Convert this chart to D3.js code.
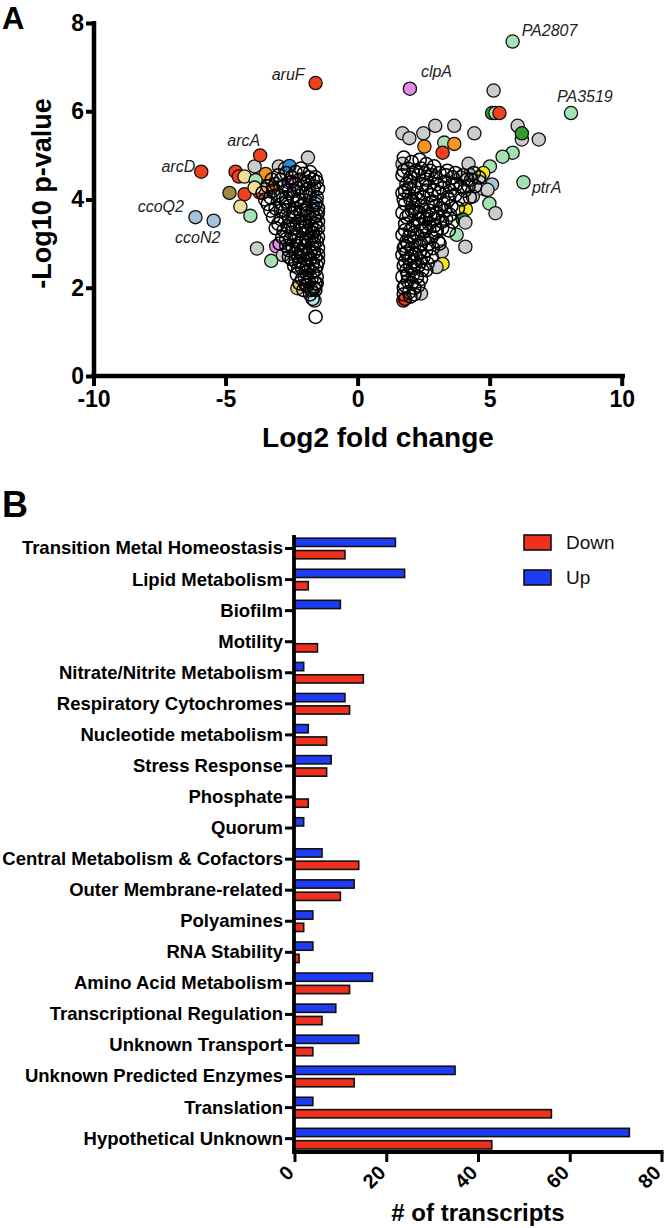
<!DOCTYPE html>
<html><head><meta charset="utf-8">
<script src="https://cdn.jsdelivr.net/npm/d3@7/dist/d3.min.js"></script>
<style>
body{margin:0;background:#fff;}
svg{display:block;font-family:"Liberation Sans",Arial,sans-serif;}
</style></head>
<body>
<svg id="c" width="666" height="1228"></svg>
<script>
// ---------- Panel A data ----------
const xTicksA = [-10, -5, 0, 5, 10];
const yTicksA = [0, 2, 4, 6, 8];

// labelled genes: [name, log2FC, -log10 p, group]
const labelledGenes = [
  ["aruF", -1.59, 6.64, "red"],
  ["arcA", -3.69, 5.0, "red"],
  ["arcD", -5.92, 4.63, "red"],
  ["ccoQ2", -6.14, 3.6, "steel"],
  ["ccoN2", -5.45, 3.52, "steel"],
  ["clpA", 1.98, 6.51, "violet"],
  ["PA2807", 5.87, 7.58, "lgreen"],
  ["PA3519", 8.08, 5.96, "lgreen"],
  ["ptrA", 6.28, 4.39, "lgreen"]
];

// coloured (categorised) genes: [log2FC, -log10 p, group]
const colouredGenes = [
  [-4.62,4.63,"red"],[-4.5,4.52,"red"],[-3.9,4.75,"grey"],[-3.48,4.58,"orange"],
  [-4.28,4.52,"ltan"],[-3.86,4.44,"lgreen"],[-2.98,4.75,"grey"],[-2.75,4.7,"grey"],
  [-2.58,4.76,"blue"],[-1.88,4.95,"grey"],[-2.58,4.38,"violet"],[-4.85,4.15,"olive"],
  [-4.28,4.12,"red"],[-3.71,4.16,"red"],[-3.5,4.23,"tan"],[-3.2,4.27,"orange"],
  [-3.9,4.27,"ltan"],[-2.9,4.07,"lcyan"],[-4.44,3.84,"ltan"],[-4.06,3.63,"lgreen"],
  [-3.81,2.89,"grey"],[-3.27,2.61,"lgreen"],[-3.08,2.94,"violet"],[-2.83,2.74,"grey"],
  [-2.28,1.99,"tan"],[-1.72,1.89,"lcyan"],[-1.63,1.71,"lcyan"],[-1.56,3.95,"steel"],
  [-1.5,3.7,"lcyan"],
  [5.15,6.47,"grey"],[5.09,5.96,"dgreen"],[5.22,5.96,"lgreen"],[5.37,5.96,"red"],
  [6.06,5.67,"grey"],[6.22,5.36,"grey"],[6.22,5.5,"dgreen"],[6.86,5.36,"grey"],
  [5.87,5.06,"lgreen"],[5.49,4.97,"lgreen"],[5.01,4.75,"lgreen"],[1.7,5.5,"grey"],
  [1.96,5.39,"grey"],[2.49,5.5,"grey"],[2.94,5.67,"grey"],[3.66,5.67,"grey"],
  [4.42,5.5,"grey"],[2.53,5.2,"orange"],[3.28,5.29,"lgreen"],[3.66,5.26,"orange"],
  [3.22,5.06,"red"],[1.7,4.81,"grey"],[4.2,4.81,"grey"],[4.76,4.6,"yellow"],
  [5.09,4.34,"steel"],[4.61,4.4,"grey"],[4.25,4.55,"steel"],[4.86,4.22,"grey"],
  [4.61,4.25,"grey"],[4.92,4.22,"grey"],[4.99,3.91,"lgreen"],[5.22,3.69,"grey"],
  [4.1,3.78,"yellow"],[3.98,3.55,"dgreen"],[4.08,3.48,"grey"],[3.75,3.2,"lgreen"],
  [4.08,2.93,"grey"],[3.19,2.82,"grey"],[3.22,2.54,"yellow"],[2.99,2.47,"grey"],
  [2.4,1.87,"grey"],[1.73,1.71,"red"],[4.36,4.07,"grey"],[3.9,4.5,"grey"]
];

// uncategorised genes (open circles): [log2FC, -log10 p]
const openGenes = [
  [-3.0,4.55],[-2.7,4.6],[-2.35,4.62],[-2.05,4.58],[-1.8,4.62],[-1.6,4.5],[-2.2,4.45],[-1.9,4.4],
  [-1.65,4.3],[-2.5,4.4],[-2.8,4.3],[-3.1,4.35],[-3.4,4.3],[-3.6,4.15],[-3.3,4.05],[-3.0,4.1],
  [-2.7,4.05],[-2.4,4.2],[-2.1,4.15],[-1.8,4.1],[-1.55,4.05],
  [-3.4,3.9],[-3.1,3.8],[-2.85,3.9],[-2.6,3.85],[-2.3,3.95],[-2.0,3.9],[-1.7,3.85],[-1.5,3.8],
  [-3.2,3.6],[-2.9,3.55],[-2.6,3.6],[-2.4,3.7],[-2.15,3.65],[-1.9,3.7],[-1.65,3.6],[-1.5,3.5],
  [-2.0,3.5],[-2.3,3.45],[-1.75,3.4],
  [-3.1,3.35],[-2.8,3.3],[-2.5,3.25],[-2.2,3.3],[-1.95,3.25],[-1.6,3.3],[-1.5,3.15],[-2.7,3.1],
  [-2.4,3.05],[-2.1,3.1],[-1.85,3.05],[-1.65,3.0],[-2.95,3.0],[-2.3,2.95],[-1.5,2.9],
  [-2.6,2.85],[-2.35,2.8],[-2.05,2.85],[-1.8,2.8],[-1.6,2.7],[-2.5,2.65],[-2.2,2.6],[-1.95,2.65],
  [-1.7,2.55],[-1.5,2.6],[-2.4,2.5],[-2.1,2.45],[-1.85,2.4],[-1.6,2.4],
  [-2.3,2.3],[-2.0,2.25],[-1.75,2.2],[-1.55,2.25],[-2.2,2.1],[-1.9,2.05],[-1.65,2.0],[-2.05,1.95],
  [-1.8,1.85],[-1.6,1.95],[-1.59,1.34],
  [-2.2,4.0],[-1.95,3.8],[-2.45,3.35],[-1.75,3.15],[-2.0,2.95],[-2.25,2.7],[-1.9,2.5],[-2.15,3.85],
  [-1.85,4.25],[-2.6,4.2],[-2.9,4.45],[-3.2,4.2],[-1.7,4.45],[-2.35,4.35],[-2.0,4.35],[-2.75,3.75],
  [-2.55,3.45],[-2.3,3.15],[-1.95,3.4],[-1.55,3.65],[-1.7,3.75],
  [-2.25,4.25],[-1.95,4.15],[-1.7,4.2],[-1.5,4.25],[-2.45,4.05],[-2.05,3.75],[-1.8,3.6],[-1.6,3.9],
  [-2.35,3.8],[-2.2,3.5],[-1.85,3.3],[-1.6,3.45],[-2.4,3.6],[-2.1,3.35],[-1.7,3.25],[-2.55,3.1],
  [-2.2,3.0],[-1.95,3.1],[-1.7,2.9],[-1.55,3.05],[-2.45,2.9],[-2.15,2.8],[-1.9,2.75],[-1.65,2.8],
  [-2.35,2.6],[-2.05,2.55],[-1.8,2.65],[-1.55,2.5],[-2.25,2.45],[-1.95,2.35],[-1.7,2.35],[-2.1,2.2],
  [-1.85,2.15],[-1.6,2.1],[-1.95,2.05],[-1.75,1.95],[-1.7,1.75],[-2.7,3.95],[-2.9,3.75],[-3.0,3.45],
  [-2.65,3.4],[-2.85,3.15],[-2.7,2.95],[-2.6,2.7],[-3.3,3.75],[-3.5,4.0],[-3.25,4.45],[-2.5,4.5],
  [-2.15,4.7],[-1.85,4.5],[-1.55,4.4],[-1.65,3.15],[-1.5,3.35],[-1.5,2.75],[-1.55,2.1],
  [1.75,4.95],[2.05,4.85],[2.35,4.9],[2.6,4.8],[2.9,4.75],[1.9,4.7],[2.2,4.65],
  [1.7,4.55],[2.0,4.5],[2.3,4.55],[2.55,4.6],[2.8,4.55],[3.1,4.6],[3.4,4.65],[3.7,4.6],[4.0,4.55],
  [4.3,4.45],[4.6,4.5],[1.85,4.35],[2.15,4.3],[2.45,4.35],[2.7,4.3],[3.0,4.35],[3.3,4.4],[3.6,4.35],
  [3.9,4.3],[4.2,4.3],
  [1.7,4.15],[1.95,4.1],[2.25,4.15],[2.5,4.05],[2.8,4.1],[3.1,4.15],[3.4,4.05],[3.7,4.1],[3.95,4.0],
  [4.25,4.05],[1.8,3.9],[2.1,3.95],[2.4,3.85],[2.65,3.9],[2.95,3.85],[3.25,3.9],[3.55,3.85],[3.8,3.8],
  [1.7,3.7],[1.95,3.65],[2.2,3.7],[2.5,3.6],[2.75,3.65],[3.05,3.6],[3.35,3.55],[3.6,3.5],[1.8,3.45],
  [2.1,3.4],[2.35,3.45],[2.6,3.35],[2.9,3.4],[3.2,3.35],[3.45,3.3],
  [1.7,3.2],[1.95,3.15],[2.25,3.2],[2.5,3.1],[2.8,3.15],[3.05,3.05],[1.8,2.95],[2.05,2.9],[2.35,2.95],
  [2.6,2.85],[2.85,2.9],[1.7,2.75],[2.2,2.75],
  [1.95,2.65],[2.4,2.6],[2.65,2.55],[1.75,2.5],[2.1,2.45],[2.45,2.4],[1.9,2.3],[2.25,2.25],[1.7,2.25],
  [2.05,2.1],[1.8,2.05],[2.3,2.05],[1.95,1.9],[2.15,1.85],[1.75,1.85],
  [2.0,4.0],[2.3,3.55],[2.0,3.3],[1.85,3.05],[2.15,2.6],[2.5,2.7],[2.6,4.45],[2.9,4.2],[3.2,4.25],
  [3.5,4.2],[1.8,4.2],[2.7,3.75],[3.0,3.7],[1.75,2.9],[2.4,3.0],[2.55,3.3],[1.85,3.6],[2.1,3.8],
  [3.3,3.75],[2.0,4.4],[4.45,4.3],
  [1.75,4.65],[2.1,4.6],[2.4,4.7],[2.75,4.65],[1.95,4.25],[2.3,4.0],[2.6,4.2],[2.85,3.95],[1.75,4.0],
  [2.05,3.75],[2.35,3.7],[2.6,3.55],[1.8,3.3],[2.15,3.25],[2.4,3.3],[2.7,3.45],[2.95,3.25],[1.9,3.0],
  [2.15,3.05],[2.7,3.0],[1.85,2.8],[2.05,2.7],[2.35,2.8],[1.8,2.6],[2.0,2.5],[2.3,2.5],[1.85,2.4],
  [2.1,2.3],[2.4,2.2],[1.9,2.15],[2.15,2.0],[1.75,2.0],[2.0,1.8],[1.8,1.75],[3.15,3.8],[3.45,4.0],
  [3.75,4.35],[4.05,4.2],[3.5,3.65],[3.2,3.5],[2.9,3.55],[3.35,4.55],[2.95,4.5],[3.6,4.5],[4.15,4.45],
  [4.4,4.6],[3.1,3.0],[2.8,2.7],[2.6,2.4],[3.0,3.3]
];

// ---------- Panel B data ----------
const categories = [
  "Transition Metal Homeostasis","Lipid Metabolism","Biofilm","Motility",
  "Nitrate/Nitrite Metabolism","Respiratory Cytochromes","Nucleotide metabolism",
  "Stress Response","Phosphate","Quorum","Central Metabolism & Cofactors",
  "Outer Membrane-related","Polyamines","RNA Stability","Amino Acid Metabolism",
  "Transcriptional Regulation","Unknown Transport","Unknown Predicted Enzymes",
  "Translation","Hypothetical Unknown"
];
const upCounts   = [22,24,10,0,2,11,3,8,0,2,6,13,4,4,17,9,14,35,4,73];
const downCounts = [11,3,0,5,15,12,7,7,3,0,14,10,2,1,12,6,4,13,56,43];
const seriesNames = ["Down","Up"];
const xTicksB = [0,20,40,60,80];

// ---------- styles ----------
const groupColour = {
  red:"#f0401e", orange:"#f7941d", ltan:"#f2dc9b", tan:"#e0c57a", olive:"#a08c3a",
  lgreen:"#a5e2b2", dgreen:"#2f9e2a", grey:"#cccccc", blue:"#2e8bd8", steel:"#a3c3dc",
  lcyan:"#b7e3e8", violet:"#e38be6", yellow:"#f5e61a"
};
const seriesColour = {Down:"#f0301e", Up:"#1f3cf5"};

const svg = d3.select("#c");

// ================= Panel A =================
const xA = d3.scaleLinear().domain([-10,10]).range([93.5,621.7]);
const yA = d3.scaleLinear().domain([0,8]).range([376,23]);
const gA = svg.append("g");

const axB = gA.append("g").attr("transform","translate(0,376)")
  .call(d3.axisBottom(xA).tickValues(xTicksA).tickFormat(d=>String(d)).tickSize(10).tickSizeOuter(0).tickPadding(5));
const axL = gA.append("g").attr("transform","translate(94,0)")
  .call(d3.axisLeft(yA).tickValues(yTicksA).tickFormat(d=>String(d)).tickSize(8).tickSizeOuter(0).tickPadding(2));
[axB,axL].forEach(a=>{
  a.select(".domain").attr("stroke","#000").attr("stroke-width",4.5);
  a.selectAll(".tick line").attr("stroke","#000").attr("stroke-width",4);
  a.selectAll(".tick text").attr("fill","#000").style("font-size","23px").style("font-weight","bold")
   .style("font-family","'Liberation Sans',Arial,sans-serif");
});
axB.select(".domain").attr("d","M91.5,0H625");
axL.select(".domain").attr("d","M0,378V21");

const r = 6.6;
const allColoured = colouredGenes.concat(labelledGenes.map(d=>[d[1],d[2],d[3]]));
gA.append("g").selectAll("circle").data(allColoured).join("circle")
  .attr("cx",d=>xA(d[0])).attr("cy",d=>yA(d[1])).attr("r",r)
  .attr("fill",d=>groupColour[d[2]]).attr("stroke","#111").attr("stroke-width",1.3);
gA.append("g").selectAll("circle").data(openGenes).join("circle")
  .attr("cx",d=>xA(d[0])).attr("cy",d=>yA(d[1])).attr("r",r)
  .attr("fill","none").attr("stroke","#000").attr("stroke-width",1.5);

// gene labels: offsets (pixels) relative to the point
const labelOffset = {
  aruF:[-11,-2.6,"end"], arcA:[0,-9,"end"], arcD:[-6,0.5,"end"], ccoQ2:[-11.5,-5.5,"end"],
  ccoN2:[-16,22,"middle"], clpA:[11,-11.7,"start"], PA2807:[9,-6,"start"],
  PA3519:[-14,-11.5,"start"], ptrA:[8.5,10.5,"start"]
};
gA.append("g").selectAll("text").data(labelledGenes).join("text")
  .attr("x",d=>xA(d[1])+labelOffset[d[0]][0]).attr("y",d=>yA(d[2])+labelOffset[d[0]][1])
  .attr("text-anchor",d=>labelOffset[d[0]][2])
  .style("font-size","16px").style("font-style","italic").attr("fill","#222").text(d=>d[0]);

gA.append("text").attr("x",378).attr("y",447).attr("text-anchor","middle")
  .style("font-size","28px").style("font-weight","bold").text("Log2 fold change");
gA.append("text").attr("transform","translate(51,193.5) rotate(-90)").attr("text-anchor","middle")
  .style("font-size","27px").style("font-weight","bold").text("-Log10 p-value");
svg.append("text").attr("x",2).attr("y",28.5).style("font-size","31px").style("font-weight","bold").text("A");
svg.append("text").attr("x",2).attr("y",517).style("font-size","36px").style("font-weight","bold").text("B");

// ================= Panel B =================
const xB = d3.scaleLinear().domain([0,80]).range([294.5,661.5]);
const yB = d3.scaleBand().domain(categories).range([533,1154.2]).padding(0);
const ySub = d3.scaleBand().domain(["Up","Down"]).range([5.2,25.8]).paddingInner(0.33);
const gB = svg.append("g");

const rows = categories.map((c,i)=>({cat:c, Up:upCounts[i], Down:downCounts[i]}));
const grp = gB.append("g").selectAll("g").data(rows).join("g")
  .attr("transform",d=>`translate(0,${yB(d.cat)})`);
grp.selectAll("rect").data(d=>["Up","Down"].filter(s=>d[s]>0).map(s=>({s,v:d[s]}))).join("rect")
  .attr("x",xB(0)).attr("y",d=>ySub(d.s)).attr("height",ySub.bandwidth())
  .attr("width",d=>xB(d.v)-xB(0))
  .attr("fill",d=>seriesColour[d.s]).attr("stroke","#111").attr("stroke-width",1.6);

const bAxL = gB.append("g").attr("transform","translate(294,0)")
  .call(d3.axisLeft(yB).tickSize(9).tickSizeOuter(0).tickPadding(2));
const bAxB = gB.append("g").attr("transform","translate(0,1152)")
  .call(d3.axisBottom(xB).tickValues(xTicksB).tickFormat(d=>String(d)).tickSize(10).tickSizeOuter(0));
[bAxL,bAxB].forEach(a=>{
  a.select(".domain").attr("stroke","#000").attr("stroke-width",3.8);
  a.selectAll(".tick line").attr("stroke","#000").attr("stroke-width",3);
  a.selectAll(".tick text").attr("fill","#000").style("font-weight","bold")
   .style("font-family","'Liberation Sans',Arial,sans-serif");
});
bAxL.select(".domain").attr("d","M0,535V1154");
bAxB.select(".domain").attr("d","M292,0H663.5");
bAxL.selectAll(".tick text").style("font-size","18.5px");
bAxB.selectAll(".tick text").style("font-size","20px")
  .attr("x",0).attr("y",0).attr("dy",0).attr("text-anchor","end")
  .attr("transform","translate(0,22) rotate(-45)");

gB.append("text").attr("x",478).attr("y",1221).attr("text-anchor","middle")
  .style("font-size","24px").style("font-weight","bold").text("# of transcripts");

// legend
const leg = gB.append("g").selectAll("g").data(seriesNames).join("g")
  .attr("transform",(d,i)=>`translate(524,${535+i*35})`);
leg.append("rect").attr("width",27).attr("height",15)
  .attr("fill",d=>seriesColour[d]).attr("stroke","#111").attr("stroke-width",1.6);
leg.append("text").attr("x",42).attr("y",7.5).attr("dy","0.35em")
  .style("font-size","19px").attr("fill","#111").text(d=>d);
</script>
</body></html>
